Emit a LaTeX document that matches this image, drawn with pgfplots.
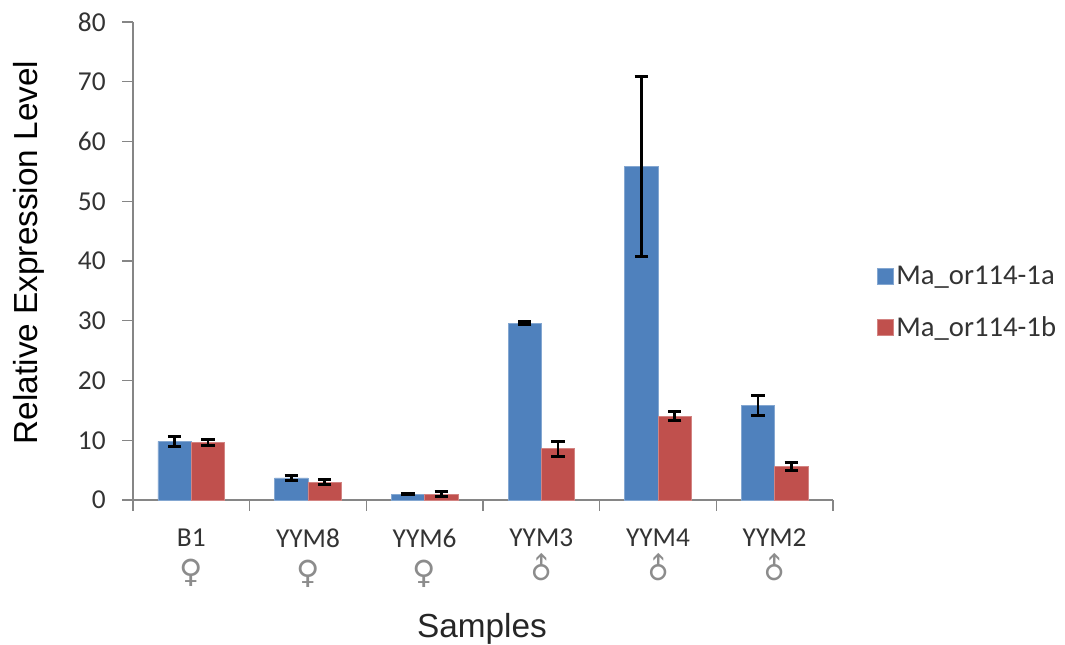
\documentclass[border=0pt]{standalone}
\usepackage{fontspec}
\setmainfont{Carlito}
\newfontfamily\arialf{Liberation Sans}
\newfontfamily\symf{DejaVu Sans}
\usepackage{pgfplots}
\pgfplotsset{compat=1.18}
\definecolor{barblue}{RGB}{79,129,189}
\definecolor{barred}{RGB}{192,80,77}
\definecolor{axgray}{RGB}{134,134,134}
\newcommand{\fem}{\\[3pt]{\color{black!45}\fontsize{24}{26}\selectfont\symf ♀}}
\newcommand{\mal}{\\[3pt]{\color{black!45}\fontsize{22}{26}\selectfont\symf\rotatebox{45}{♂}}}
\begin{document}
\begin{tikzpicture}
\begin{axis}[
  name=ax, at={(0pt,0pt)}, anchor=south west,
  scale only axis, width=525pt, height=358.5pt,
  xmin=-0.5, xmax=5.5, ymin=0, ymax=80,
  clip=false,
  axis lines=left, axis line style={axgray, line width=1pt, -},
  ybar, bar width=25pt,
  xtick={0,...,5},
  xticklabels={{B1\fem},{YYM8\fem},{YYM6\fem},{YYM3\mal},{YYM4\mal},{YYM2\mal}},
  xticklabel style={align=center, font=\fontsize{20.5}{24}\selectfont, text=black!80, yshift=-10pt},
  major x tick style={draw=none},
  minor xtick={-0.5,0.5,...,5.5},
  minor tick length=8pt,
  minor x tick style={axgray, line width=1pt},
  ytick={0,10,...,80},
  ytick align=outside, ytick pos=left,
  major tick length=8pt,
  y tick style={axgray, line width=1pt},
  yticklabel style={font=\fontsize{20.5}{24}\selectfont, text=black!80, xshift=-9pt, /pgf/number format/assume math mode=true},
  xlabel={\arialf Samples},
  xlabel style={font=\fontsize{25}{29}\selectfont, at={(axis description cs:0.4985,0)}, anchor=center, yshift=-97pt, inner sep=0pt, text=black!85},
  ylabel={\arialf Relative Expression Level},
  ylabel style={font=\fontsize{25}{29}\selectfont, at={(axis description cs:0,0.518)}, anchor=center, yshift=78pt, inner sep=0pt, text=black},
  legend cell align=left,
  legend style={at={(1,0.5)}, anchor=west, xshift=30pt, yshift=-31pt, draw=none, fill=none,
    font=\fontsize{21.5}{25}\selectfont, row sep=18pt, text=black!80,
    /tikz/every even column/.append style={column sep=8pt}},
  legend image code/.code={\fill[#1] (0,-6pt) rectangle (12pt,6pt);},
  error bars/y dir=both, error bars/y explicit,
  error bars/error bar style={black, line width=2.2pt},
  error bars/error mark options={black, line width=2.2pt, mark size=5pt, rotate=90},
]
\addplot[fill=barblue, draw=barblue!70!white, bar shift=-12.5pt] coordinates {
 (0,9.8) +- (0,0.9)
 (1,3.7) +- (0,0.42)
 (2,1.0) +- (0,0.15)
 (3,29.6) +- (0,0.25)
 (4,55.8) +- (0,15)
 (5,15.8) +- (0,1.7)
};
\addlegendentry{Ma\_or114-1a}
\addplot[fill=barred, draw=barred!70!white, bar shift=12.5pt] coordinates {
 (0,9.6) +- (0,0.55)
 (1,3.0) +- (0,0.45)
 (2,1.0) +- (0,0.45)
 (3,8.6) +- (0,1.25)
 (4,14.0) +- (0,0.75)
 (5,5.6) +- (0,0.67)
};
\addlegendentry{Ma\_or114-1b}
\end{axis}
\path (ax.south west) ++(-99.75pt,-108pt) coordinate (bl);
\path (ax.south west) ++(699pt,375pt) coordinate (tr);
\useasboundingbox (bl) rectangle (tr);
\end{tikzpicture}
\end{document}
